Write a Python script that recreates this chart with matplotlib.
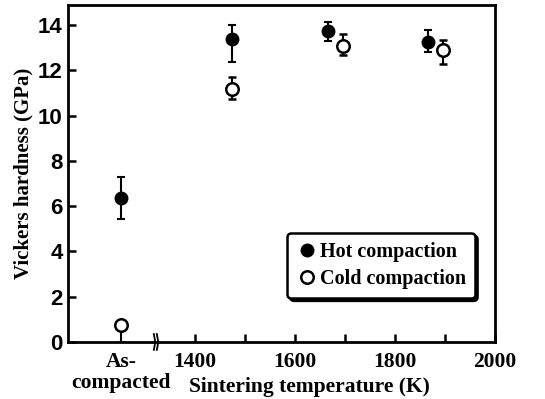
import matplotlib
matplotlib.use('Agg')
import matplotlib.pyplot as plt
from matplotlib.lines import Line2D

# data
as_compacted_x = 1252          # position used for the as-compacted samples
hot_temp = [as_compacted_x, 1473, 1666, 1866]
hot_hv = [6.35, 13.4, 13.75, 13.25]
hot_err_lo = [0.9, 1.05, 0.45, 0.45]
hot_err_hi = [0.95, 0.6, 0.4, 0.55]

cold_temp = [as_compacted_x, 1473, 1696, 1896]
cold_hv = [0.75, 11.2, 13.1, 12.9]
cold_err_lo = [0.75, 0.45, 0.4, 0.6]
cold_err_hi = [0.0, 0.5, 0.5, 0.45]

major_ticks = [1400, 1600, 1800, 2000]
minor_ticks = [1500, 1700, 1900]
y_ticks = [0, 2, 4, 6, 8, 10, 12, 14]

serif = 'Liberation Serif'
sans = 'Liberation Sans'

fig = plt.figure(figsize=(5.45, 3.99), dpi=100)
ax = fig.add_axes([0.125, 0.143, 0.783, 0.845])

ax.errorbar(hot_temp, hot_hv, yerr=[hot_err_lo, hot_err_hi], fmt='o', color='black',
            markersize=9, capsize=3, elinewidth=1.5, capthick=1.5)
ax.errorbar(cold_temp, cold_hv, yerr=[cold_err_lo, cold_err_hi], fmt='o', color='black',
            mfc='white', mec='black', mew=1.8, markersize=9, capsize=3, elinewidth=1.5,
            capthick=1.5)

ax.set_xlim(1146, 2000)
ax.set_ylim(0, 14.9)

ax.set_xticks(major_ticks + [as_compacted_x])
ax.set_xticklabels([str(t) for t in major_ticks] + ['As-\ncompacted'],
                   fontfamily=serif, fontweight='bold', fontsize=15.5)
ax.set_xticks(minor_ticks, minor=True)
ax.set_yticks(y_ticks)
ax.set_yticklabels([str(t) for t in y_ticks], fontfamily=sans, fontweight='bold', fontsize=16)

ax.tick_params(axis='both', which='both', direction='in', length=6, width=1.8, pad=4)
ax.tick_params(axis='x', which='major', pad=7)
# no visible tick mark at the as-compacted position
ax.xaxis.get_major_ticks()[-1].tick1line.set_visible(False)
ax.xaxis.get_major_ticks()[-1].label1.set_linespacing(1.1)

for s in ax.spines.values():
    s.set_linewidth(2)

# axis break marks
for dx in (-5, 1):
    xb = 1324 + dx
    ax.plot([xb - 1.5, xb + 1.5, xb - 1.5], [-0.35, 0.0, 0.35], color='black', lw=1.3,
            clip_on=False)

ax.text(1628, -2.0, 'Sintering temperature (K)', ha='center', va='center',
        fontfamily=serif, fontweight='bold', fontsize=15.5)
ax.set_ylabel('Vickers hardness (GPa)', fontfamily=serif, fontweight='bold', fontsize=15,
              labelpad=3)

handles = [Line2D([], [], ls='none', marker='o', color='black', markersize=9),
           Line2D([], [], ls='none', marker='o', mfc='white', mec='black', mew=1.8,
                  markersize=9)]
leg = ax.legend(handles, ['Hot compaction', 'Cold compaction'], loc='lower right',
                bbox_to_anchor=(0.953, 0.13), frameon=True, fancybox=True,
                shadow={'color': 'black', 'alpha': 1.0}, handletextpad=0.15,
                handlelength=1.0, borderpad=0.45, borderaxespad=0, labelspacing=0.35,
                prop={'family': serif, 'weight': 'bold', 'size': 14.5})
leg.get_frame().set_edgecolor('black')
leg.get_frame().set_linewidth(1.8)
leg.get_frame().set_alpha(1)

fig.savefig('out.png', dpi=100)
